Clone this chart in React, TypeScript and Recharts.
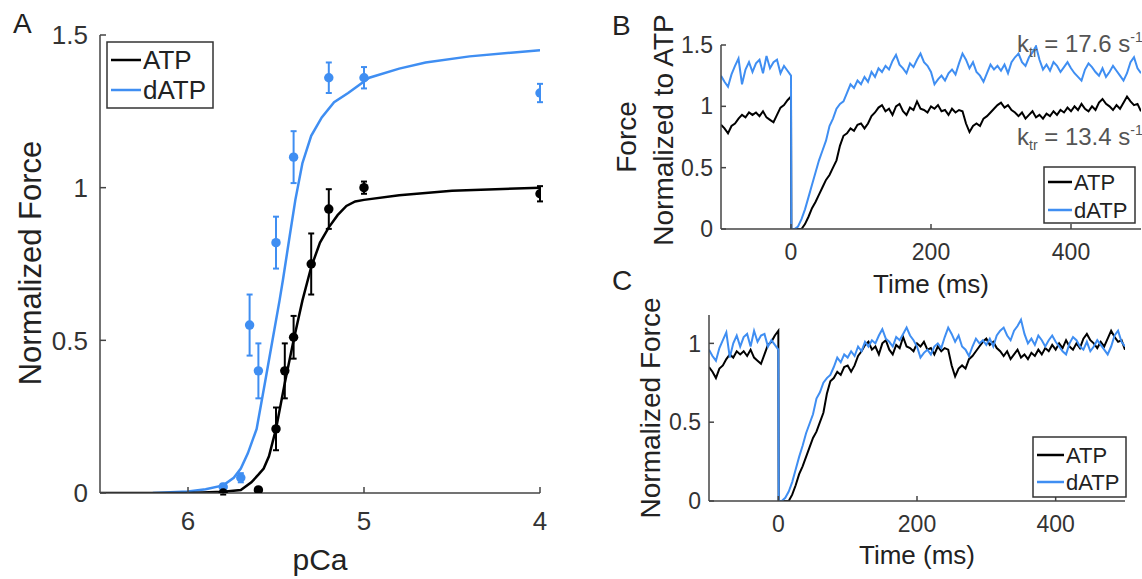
import {
  ComposedChart,
  LineChart,
  Line,
  Scatter,
  ErrorBar,
  XAxis,
  YAxis,
  ZAxis,
} from "recharts";

// ---- panel A: force-pCa ----
const atpFitPCa = [6.5, 6.0, 5.8, 5.7, 5.64, 5.6, 5.57, 5.54, 5.5, 5.45, 5.4, 5.35, 5.3, 5.25, 5.2, 5.15, 5.1, 5.05, 5.0, 4.8, 4.5, 4.0];
const atpFitForce = [0, 0, 0.004, 0.01, 0.035, 0.06, 0.08, 0.12, 0.21, 0.36, 0.5, 0.63, 0.74, 0.82, 0.87, 0.91, 0.94, 0.955, 0.96, 0.975, 0.99, 1.0];

const datpFitPCa = [6.2, 6.0, 5.9, 5.8, 5.74, 5.7, 5.66, 5.61, 5.56, 5.52, 5.48, 5.46, 5.42, 5.39, 5.35, 5.3, 5.24, 5.17, 5.09, 4.97, 4.8, 4.65, 4.4, 4.0];
const datpFitForce = [0, 0.005, 0.012, 0.025, 0.05, 0.08, 0.13, 0.21, 0.37, 0.5, 0.63, 0.7, 0.85, 0.96, 1.08, 1.17, 1.23, 1.28, 1.31, 1.36, 1.39, 1.41, 1.43, 1.45];

const atpPCa = [5.8, 5.6, 5.5, 5.45, 5.4, 5.3, 5.2, 5.0, 4.0];
const atpForce = [0.0, 0.01, 0.21, 0.4, 0.51, 0.75, 0.93, 1.0, 0.98];
const atpErr = [0.005, 0.005, 0.07, 0.09, 0.07, 0.1, 0.065, 0.02, 0.025];

const datpPCa = [5.8, 5.7, 5.65, 5.6, 5.5, 5.4, 5.2, 5.0, 4.0];
const datpForce = [0.02, 0.05, 0.55, 0.4, 0.82, 1.1, 1.36, 1.36, 1.31];
const datpErr = [0.01, 0.015, 0.1, 0.09, 0.085, 0.085, 0.05, 0.035, 0.03];

const pCaTicks = [6, 5, 4];
const forceTicks = [0, 0.5, 1, 1.5];

// ---- panels B and C: ktr traces ----
const range = (a: number, b: number, step: number) => {
  const out: number[] = [];
  for (let v = a; v <= b; v += step) out.push(v);
  return out;
};
const timeMs = [...range(-100, 0, 5), 0.5, ...range(5, 500, 5)];

const atpTrace = [
  0.85, 0.82, 0.78, 0.84, 0.86, 0.9, 0.93, 0.91, 0.95, 0.93, 0.95, 0.92, 0.96, 0.91, 0.89, 0.87, 0.93, 0.99, 1.01, 1.05, 1.08,
  0,
  0, 0, 0, 0.04, 0.1, 0.17, 0.22, 0.28, 0.34, 0.4,
  0.44, 0.5, 0.56, 0.68, 0.76, 0.78, 0.82, 0.8, 0.85, 0.86,
  0.82, 0.86, 0.92, 0.95, 0.99, 1.01, 0.96, 0.98, 0.93, 1.0,
  1.02, 0.96, 0.93, 0.99, 0.97, 1.04, 0.98, 0.97, 0.95, 1.0,
  0.98, 1.01, 0.96, 0.97, 0.93, 0.98, 0.95, 0.97, 0.96, 0.86,
  0.79, 0.84, 0.86, 0.84, 0.9, 0.92, 0.95, 0.98, 1.01, 1.03,
  0.99, 1.01, 0.97, 0.95, 0.92, 0.95, 0.9, 0.93, 0.96, 0.91,
  0.93, 0.9, 0.94, 0.92, 0.96, 0.93, 0.97, 0.95, 0.99, 0.96,
  1.0, 0.97, 1.02, 0.98, 0.96, 1.0, 0.97, 1.03, 1.06, 1.02,
  1.0, 0.97, 1.01, 0.98, 1.03, 1.08, 1.04, 1.01, 1.02, 0.96,
];

// dATP normalized to ATP (panel B)
const datpTrace = [
  1.25, 1.2, 1.16, 1.26, 1.33, 1.39, 1.18, 1.3, 1.36, 1.28, 1.35, 1.38, 1.27, 1.41, 1.31, 1.36, 1.38, 1.27, 1.33, 1.29, 1.25,
  0,
  0, 0.02, 0.08, 0.16, 0.26, 0.36, 0.46, 0.56, 0.64, 0.72,
  0.84, 0.9, 0.98, 1.02, 1.04, 1.11, 1.18, 1.15, 1.21, 1.18,
  1.24, 1.2, 1.28, 1.24, 1.31, 1.28, 1.33, 1.3, 1.37, 1.42,
  1.34, 1.31, 1.27, 1.35, 1.32, 1.38, 1.43, 1.36, 1.33, 1.28,
  1.18, 1.22, 1.25, 1.21, 1.27, 1.3, 1.26, 1.35, 1.43, 1.38,
  1.31, 1.36, 1.28, 1.25, 1.2, 1.27, 1.34, 1.3, 1.33, 1.29,
  1.34, 1.27, 1.36, 1.4, 1.43, 1.36, 1.33, 1.4, 1.44, 1.49,
  1.38, 1.3, 1.34, 1.29, 1.36, 1.33, 1.28, 1.32, 1.36, 1.31,
  1.27, 1.24, 1.21, 1.3, 1.35, 1.32, 1.28, 1.25, 1.31, 1.24,
  1.28, 1.33, 1.29, 1.25, 1.21, 1.27, 1.36, 1.4, 1.31, 1.27,
];

// dATP normalized to its own plateau (panel C)
const datpNormTrace = [
  0.96, 0.92, 0.89, 0.97, 1.02, 1.07, 0.91, 1.0, 1.05, 0.98, 1.04, 1.06, 0.98, 1.08, 1.01, 1.05, 1.06, 0.98, 1.02, 0.99, 0.96,
  0,
  0, 0.02, 0.06, 0.12, 0.2, 0.28, 0.35, 0.43, 0.49, 0.55,
  0.65, 0.69, 0.75, 0.78, 0.8, 0.85, 0.91, 0.88, 0.93, 0.91,
  0.95, 0.92, 0.98, 0.95, 1.01, 0.98, 1.02, 1.0, 1.05, 1.09,
  1.03, 1.01, 0.98, 1.04, 1.02, 1.06, 1.1, 1.05, 1.02, 0.98,
  0.91, 0.94, 0.96, 0.93, 0.98, 1.0, 0.97, 1.04, 1.1, 1.06,
  1.01, 1.05, 0.98, 0.96, 0.92, 0.98, 1.03, 1.0, 1.02, 0.99,
  1.03, 0.98, 1.05, 1.08, 1.1, 1.05, 1.02, 1.08, 1.11, 1.15,
  1.06, 1.0, 1.03, 0.99, 1.05, 1.02, 0.98, 1.02, 1.05, 1.01,
  0.98, 0.95, 0.93, 1.0, 1.04, 1.02, 0.98, 0.96, 1.01, 0.95,
  0.98, 1.02, 0.99, 0.96, 0.93, 0.98, 1.05, 1.08, 1.01, 0.98,
];

const timeTicks = [0, 200, 400];
const ktrTicksB = [0, 0.5, 1, 1.5];
const ktrTicksC = [0, 0.5, 1];

const BLUE = "#3f8ef2";
const AXIS = "#444";
const FONT = "'Liberation Sans', Arial, Helvetica, sans-serif";

const atpFit = atpFitPCa.map((p, i) => ({ pCa: p, force: atpFitForce[i] }));
const datpFit = datpFitPCa.map((p, i) => ({ pCa: p, force: datpFitForce[i] }));
const atpPts = atpPCa.map((p, i) => ({ pCa: p, force: atpForce[i], err: atpErr[i] }));
const datpPts = datpPCa.map((p, i) => ({ pCa: p, force: datpForce[i], err: datpErr[i] }));

const rowsB = timeMs.map((t, i) => ({ t, atp: atpTrace[i], datp: datpTrace[i] }));
const rowsC = timeMs.map((t, i) => ({ t, atp: atpTrace[i], datp: datpNormTrace[i] }));

function TraceChart({ rows, yMax, yTicks, width, height, margin, fontSize }: any) {
  return (
    <LineChart width={width} height={height} data={rows} margin={margin}>
      <XAxis
        type="number"
        dataKey="t"
        domain={[-100, 500]}
        ticks={timeTicks}
        interval={0}
        allowDataOverflow
        height={30}
        stroke={AXIS}
        strokeWidth={1.5}
        tickSize={-5}
        tickMargin={20}
        tick={{ fill: "#333", fontSize, fontFamily: FONT }}
      />
      <YAxis
        type="number"
        domain={[0, yMax]}
        ticks={yTicks}
        interval={0}
        allowDataOverflow
        width={60}
        stroke={AXIS}
        strokeWidth={1.5}
        tickSize={-5}
        tickMargin={13}
        tick={{ fill: "#333", fontSize, fontFamily: FONT }}
      />
      <Line dataKey="atp" stroke="#000" strokeWidth={2} dot={false} isAnimationActive={false} />
      <Line dataKey="datp" stroke={BLUE} strokeWidth={2} dot={false} isAnimationActive={false} />
    </LineChart>
  );
}

function LegendBox({ x, y, w, h, fs, rows }: any) {
  return (
    <g>
      <rect x={x} y={y} width={w} height={h} fill="#fff" stroke="#333" strokeWidth={1.5} />
      {rows.map((r: any) => (
        <g key={r.label}>
          <line x1={x + 4} x2={x + r.lineLen + 4} y1={r.y} y2={r.y} stroke={r.color} strokeWidth={2.5} />
          <text x={x + r.lineLen + 6} y={r.y + fs * 0.36} fontSize={fs} fill="#222">
            {r.label}
          </text>
        </g>
      ))}
    </g>
  );
}

function Ktr({ y, value }: { y: number; value: string }) {
  return (
    <text x={1017} y={y} fontSize={24} fill="#555">
      k
      <tspan fontSize={14} dy={5}>tr</tspan>
      <tspan fontSize={24} dy={-5}>{` = ${value} s`}</tspan>
      <tspan fontSize={14} dy={-10}>-1</tspan>
    </text>
  );
}

export default function App() {
  return (
    <div
      style={{
        position: "absolute",
        left: 0,
        top: 0,
        width: 1142,
        height: 579,
        overflow: "hidden",
        background: "#fff",
        fontFamily: FONT,
      }}
    >
      {/* A */}
      <div style={{ position: "absolute", left: 0, top: 0 }}>
        <ComposedChart width={580} height={579} margin={{ top: 35, right: 40, bottom: 56, left: 40 }}>
          <XAxis
            type="number"
            dataKey="pCa"
            domain={[4, 6.5]}
            reversed
            ticks={pCaTicks}
            interval={0}
            allowDataOverflow
            height={30}
            stroke={AXIS}
            strokeWidth={1.5}
            tickSize={-6}
            tickMargin={25}
            tick={{ fill: "#333", fontSize: 26, fontFamily: FONT }}
          />
          <YAxis
            type="number"
            dataKey="force"
            domain={[0, 1.5]}
            ticks={forceTicks}
            interval={0}
            allowDataOverflow
            width={60}
            stroke={AXIS}
            strokeWidth={1.5}
            tickSize={-6}
            tickMargin={18}
            tick={{ fill: "#333", fontSize: 26, fontFamily: FONT }}
          />
          <ZAxis range={[70, 70]} />
          <Line data={datpFit} dataKey="force" stroke={BLUE} strokeWidth={2.5} dot={false} isAnimationActive={false} />
          <Line data={atpFit} dataKey="force" stroke="#000" strokeWidth={2.5} dot={false} isAnimationActive={false} />
          <Scatter data={datpPts} fill={BLUE} isAnimationActive={false}>
            <ErrorBar dataKey="err" direction="y" width={3} stroke={BLUE} strokeWidth={2} />
          </Scatter>
          <Scatter data={atpPts} fill="#000" isAnimationActive={false}>
            <ErrorBar dataKey="err" direction="y" width={3} stroke="#000" strokeWidth={2} />
          </Scatter>
        </ComposedChart>
      </div>

      {/* B */}
      <div style={{ position: "absolute", left: 580, top: 0 }}>
        <TraceChart
          rows={rowsB}
          yMax={1.5}
          yTicks={ktrTicksB}
          width={562}
          height={300}
          margin={{ top: 45, right: 1, bottom: 41, left: 81 }}
          fontSize={23}
        />
      </div>

      {/* C */}
      <div style={{ position: "absolute", left: 580, top: 300 }}>
        <TraceChart
          rows={rowsC}
          yMax={1.18}
          yTicks={ktrTicksC}
          width={562}
          height={279}
          margin={{ top: 15, right: 17, bottom: 48, left: 69 }}
          fontSize={23}
        />
      </div>

      <svg
        width={1142}
        height={579}
        style={{ position: "absolute", left: 0, top: 0, pointerEvents: "none", fontFamily: FONT }}
      >
        <text x={13} y={33} fontSize={28} fill="#222">A</text>
        <text x={612} y={35} fontSize={28} fill="#222">B</text>
        <text x={612} y={290} fontSize={28} fill="#222">C</text>

        <text x={320} y={570} fontSize={30} fill="#222" textAnchor="middle">pCa</text>
        <text transform="translate(41,263) rotate(-90)" fontSize={31} fill="#222" textAnchor="middle">
          Normalized Force
        </text>

        <text x={931} y={293} fontSize={26} fill="#222" textAnchor="middle">Time (ms)</text>
        <text transform="translate(636,137) rotate(-90)" fontSize={28} fill="#222" textAnchor="middle">
          Force
        </text>
        <text transform="translate(673,130) rotate(-90)" fontSize={28} fill="#222" textAnchor="middle">
          Normalized to ATP
        </text>

        <text x={917} y={564} fontSize={26} fill="#222" textAnchor="middle">Time (ms)</text>
        <text transform="translate(660,408) rotate(-90)" fontSize={28} fill="#222" textAnchor="middle">
          Normalized Force
        </text>

        <Ktr y={52} value="17.6" />
        <Ktr y={145} value="13.4" />

        <LegendBox
          x={107}
          y={42}
          w={106}
          h={66}
          fs={26}
          rows={[
            { label: "ATP", color: "#000", y: 60, lineLen: 30 },
            { label: "dATP", color: BLUE, y: 90, lineLen: 30 },
          ]}
        />
        <LegendBox
          x={1044}
          y={167}
          w={91}
          h={56}
          fs={22}
          rows={[
            { label: "ATP", color: "#000", y: 182, lineLen: 24 },
            { label: "dATP", color: BLUE, y: 210, lineLen: 24 },
          ]}
        />
        <LegendBox
          x={1033}
          y={437}
          w={93}
          h={60}
          fs={22}
          rows={[
            { label: "ATP", color: "#000", y: 455, lineLen: 27 },
            { label: "dATP", color: BLUE, y: 482, lineLen: 27 },
          ]}
        />
      </svg>
    </div>
  );
}
